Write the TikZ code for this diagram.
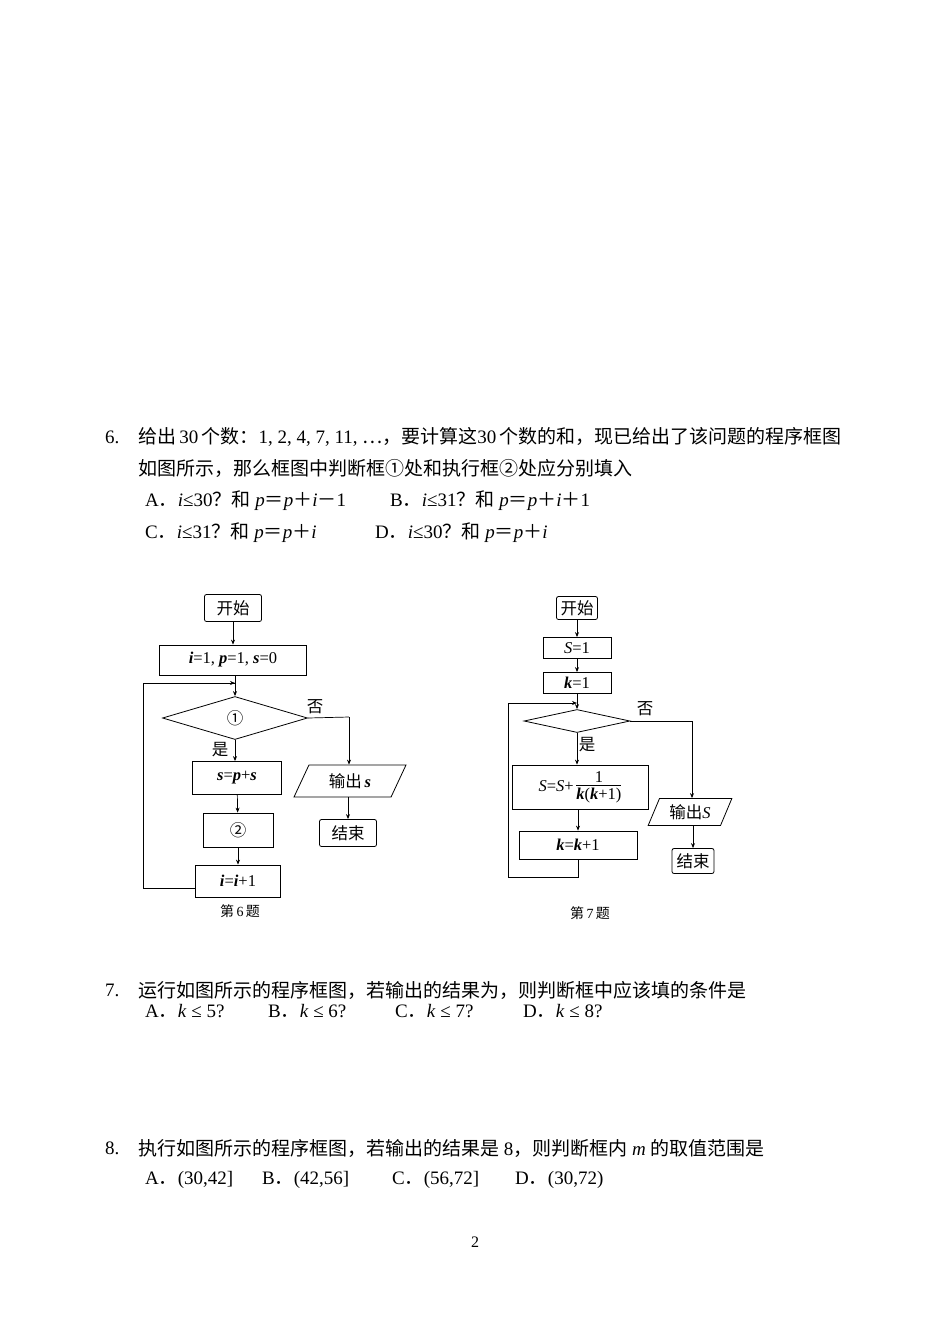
\documentclass[tikz,border=0pt]{standalone}
\usepackage{amsmath}
\usepackage{fontspec}
\setmainfont{Liberation Serif}
\newfontfamily\cjk{Noto Sans CJK SC}
\usetikzlibrary{shapes.geometric,arrows.meta}
\newcommand{\cj}[1]{{\cjk #1}}
\newcommand{\bv}[1]{\textbf{\textit{#1}}}
\begin{document}
\begin{tikzpicture}[x=1pt,y=-1pt,
  txt/.style={anchor=west,inner sep=0pt,font=\fontsize{19}{22}\selectfont},
  fc/.style={font=\fontsize{16.5}{19}\selectfont,inner sep=0pt},
  bx/.style={draw,line width=0.8pt,fc,minimum width=#1},
  rbx/.style={draw,line width=0.8pt,rounded corners=2pt,fc,inner sep=2pt},
  ar/.style={-{Stealth[length=5pt,width=4pt]},line width=0.7pt},
  ln/.style={line width=0.7pt}]
\useasboundingbox (0,0) rectangle (950,1342);
\fill[white] (0,0) rectangle (950,1342);
% Question 6
\node[txt] (q6n) at (105,437) {6.};
\node[txt] (q6a) at (138,437) {\cj{给出}\,30\,\cj{个数：}1, 2, 4, 7, 11, \cj{…，要计算这}30\,\cj{个数的和，现已给出了该问题的程序框图}};
\node[txt] (q6b) at (138,468) {\cj{如图所示，那么框图中判断框①处和执行框②处应分别填入}};
\node[txt] (q6A) at (145,501) {A\cj{．}\textit{i}≤30\cj{？和} \textit{p}\cj{＝}\textit{p}\cj{＋}\textit{i}\cj{－}1};
\node[txt] (q6B) at (390,501) {B\cj{．}\textit{i}≤31\cj{？和} \textit{p}\cj{＝}\textit{p}\cj{＋}\textit{i}\cj{＋}1};
\node[txt] (q6C) at (145,533) {C\cj{．}\textit{i}≤31\cj{？和} \textit{p}\cj{＝}\textit{p}\cj{＋}\textit{i}};
\node[txt] (q6D) at (375,533) {D\cj{．}\textit{i}≤30\cj{？和} \textit{p}\cj{＝}\textit{p}\cj{＋}\textit{i}};
% Flowchart 1
\node[draw,line width=0.8pt,rounded corners=2pt,fc,minimum width=57pt,minimum height=27pt] (a1) at (233,608) {\cj{开始}};
\node[bx=147pt,minimum height=30pt] (a2) at (233,660) {\bv{i}=1, \bv{p}=1, \bv{s}=0};
\node[draw,diamond,aspect=3.4,line width=0.8pt,fc,minimum width=145pt,minimum height=43pt,inner sep=0pt] (a3) at (235,718) {\cj{①}};
\node[bx=89pt,minimum height=33pt] (a4) at (237,778) {\bv{s}=\bv{p}+\bv{s}};
\node[bx=70pt,minimum height=34pt] (a5) at (238,830) {\cj{②}};
\node[bx=85pt,minimum height=32pt] (a6) at (238,881) {\bv{i}=\bv{i}+1};
\node[draw,trapezium,trapezium left angle=65,trapezium right angle=115,line width=0.8pt,fc,minimum width=112pt,minimum height=32pt,inner sep=1pt,trapezium stretches=true] (a7) at (350,781) {\cj{输出}\,\bv{s}};
\node[draw,line width=0.8pt,rounded corners=2pt,fc,minimum width=57pt,minimum height=27pt] (a8) at (348,833) {\cj{结束}};
\node[fc,font=\fontsize{14}{16}\selectfont] (a9) at (240,911) {\cj{第}\,6\,\cj{题}};
\node[fc] (ay) at (220,750) {\cj{是}};
\node[fc] (an) at (315,707) {\cj{否}};
\coordinate (l1) at (143,888);
\coordinate (l2) at (143,683);
\coordinate (l3) at (235,683);
\coordinate (r1) at (349,717);
\draw[ar] (a1) -- (a2);
\draw[ar] (235,675) -- (a3.north);
\draw[ar] (a3.south) -- (a4.north -| a3.south);
\draw[ar] (a4) -- (a5);
\draw[ar] (a5) -- (a6);
\draw[ln] (a6.west |- l1) -- (l1) -- (l2) -- (l3);
\draw[ar] (l2) -- (l3);
\draw[ln] (a3.east) -- (r1);
\draw[ar] (r1) -- (a7.north -| r1);
\draw[ar] (a7.south -| a8) -- (a8);
% Flowchart 2
\node[rbx,minimum width=41pt,minimum height=23pt] (b1) at (577,608) {\cj{开始}};
\node[bx=68pt,minimum height=21pt] (b2) at (577,648) {\textit{S}=1};
\node[bx=68pt,minimum height=21pt] (b3) at (577,683) {\bv{k}=1};
\node[draw,diamond,aspect=4.6,line width=0.8pt,minimum width=106pt,minimum height=23pt,inner sep=0pt] (b4) at (577,721) {};
\node[bx=136pt,minimum height=44pt] (b5) at (580,787) {\textit{S}=\textit{S}+\,\begin{tabular}{@{}c@{}}1\\[-3pt]\hline\bv{k}(\bv{k}+1)\end{tabular}};
\node[bx=118pt,minimum height=28pt] (b6) at (578,845) {\bv{k}=\bv{k}+1};
\node[draw,trapezium,trapezium left angle=65,trapezium right angle=115,line width=0.8pt,fc,minimum width=84pt,minimum height=27pt,inner sep=1pt,trapezium stretches=true] (b7) at (690,812) {\cj{输出}\textit{S}};
\node[rbx,minimum width=42pt,minimum height=25pt] (b8) at (693,861) {\cj{结束}};
\node[fc,font=\fontsize{14}{16}\selectfont] (b9) at (590,913) {\cj{第}\,7\,\cj{题}};
\node[fc] (by) at (587,745) {\cj{是}};
\node[fc] (bn) at (645,709) {\cj{否}};
\coordinate (m1) at (578,877);
\coordinate (m2) at (508,877);
\coordinate (m3) at (508,703);
\coordinate (m4) at (577,703);
\coordinate (s1) at (692,721);
\draw[ar] (b1) -- (b2);
\draw[ar] (b2) -- (b3);
\draw[ar] (b3) -- (b4);
\draw[ar] (b4.south) -- (b5.north -| b4.south);
\draw[ar] (b5.south -| b6) -- (b6);
\draw[ln] (b6.south) -- (m1) -- (m2) -- (m3);
\draw[ar] (m3) -- (m4);
\draw[ln] (b4.east) -- (s1);
\draw[ar] (s1) -- (b7.north -| s1);
\draw[ar] (b7.south -| b8) -- (b8);
% Question 7
\node[txt] (q7n) at (105,990) {7.};
\node[txt] (q7a) at (138,990) {\cj{运行如图所示的程序框图，若输出的结果为，则判断框中应该填的条件是}};
\node[txt] (q7A) at (145,1011) {A\cj{．}\textit{k} ≤ 5?};
\node[txt] (q7B) at (268,1011) {B\cj{．}\textit{k} ≤ 6?};
\node[txt] (q7C) at (395,1011) {C\cj{．}\textit{k} ≤ 7?};
\node[txt] (q7D) at (523,1011) {D\cj{．}\textit{k} ≤ 8?};
% Question 8
\node[txt] (q8n) at (105,1148) {8.};
\node[txt] (q8a) at (138,1148) {\cj{执行如图所示的程序框图，若输出的结果是} 8\cj{，则判断框内} \textit{m} \cj{的取值范围是}};
\node[txt] (q8A) at (145,1180) {A\cj{．}(30,42]};
\node[txt] (q8B) at (262,1180) {B\cj{．}(42,56]};
\node[txt] (q8C) at (392,1180) {C\cj{．}(56,72]};
\node[txt] (q8D) at (515,1180) {D\cj{．}(30,72)};
\node[fc,font=\fontsize{16}{18}\selectfont] (pg) at (475,1242) {2};
\end{tikzpicture}
\end{document}
